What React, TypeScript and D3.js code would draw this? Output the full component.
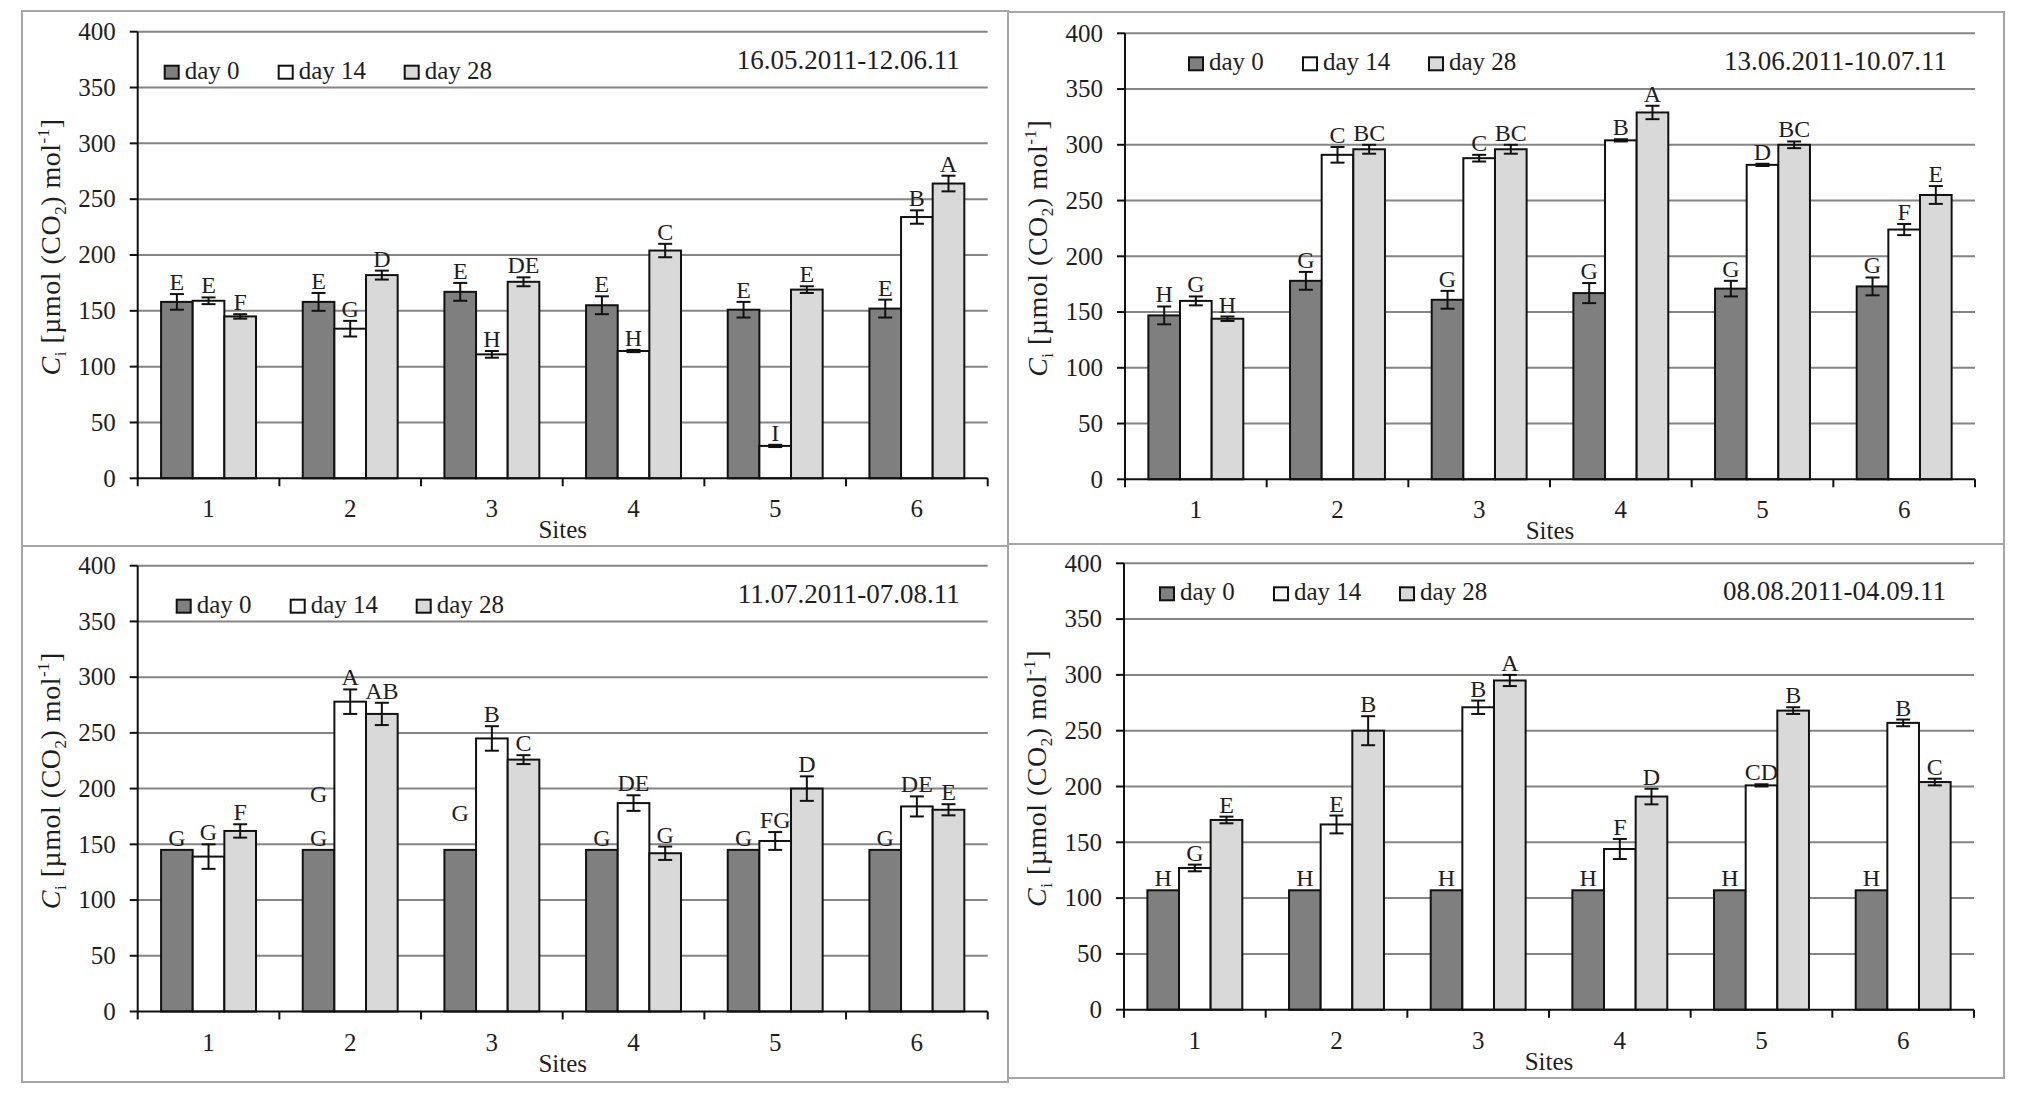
import * as d3 from "d3";

// Ci [µmol (CO2) mol-1] per site, four sampling periods, three sampling days
const SITES = ["1", "2", "3", "4", "5", "6"];
const SERIES = ["day 0", "day 14", "day 28"];
const Y_TICKS = [0, 50, 100, 150, 200, 250, 300, 350, 400];
const PERIODS = ["16.05.2011-12.06.11", "13.06.2011-10.07.11", "11.07.2011-07.08.11", "08.08.2011-04.09.11"];

// period 1
const P1_MEAN = [
  [158, 158, 167, 155, 151, 152],
  [159, 134, 111, 114, 29, 234],
  [145, 182, 176, 204, 169, 264],
];
const P1_ERR = [
  [7, 8, 8, 8, 7, 8],
  [3, 7, 3, 1, 1, 6],
  [2, 4, 4, 6, 3, 7],
];
const P1_LETTERS = [
  ["E", "E", "E", "E", "E", "E"],
  ["E", "G", "H", "H", "I", "B"],
  ["F", "D", "DE", "C", "E", "A"],
];

// period 2
const P2_MEAN = [
  [147, 178, 161, 167, 171, 173],
  [160, 291, 288, 304, 282, 224],
  [144, 296, 296, 329, 300, 255],
];
const P2_ERR = [
  [8, 8, 8, 9, 7, 8],
  [4, 7, 3, 1, 1, 5],
  [2, 4, 4, 6, 3, 8],
];
const P2_LETTERS = [
  ["H", "G", "G", "G", "G", "G"],
  ["G", "C", "C", "B", "D", "F"],
  ["H", "BC", "BC", "A", "BC", "E"],
];

// period 3
const P3_MEAN = [
  [145, 145, 145, 145, 145, 145],
  [139, 278, 245, 187, 153, 184],
  [162, 267, 226, 142, 200, 181],
];
const P3_ERR = [
  [0, 0, 0, 0, 0, 0],
  [11, 11, 11, 7, 8, 9],
  [6, 10, 4, 6, 11, 5],
];
const P3_LETTERS = [
  ["G", "G", "G", "G", "G", "G"],
  ["G", "A", "B", "DE", "FG", "DE"],
  ["F", "AB", "C", "G", "D", "E"],
];
const P3_LABEL_AT = [
  [null, null, 167, null, null, null],
  [null, null, null, null, null, null],
  [null, null, null, null, null, null],
];
const P3_EXTRA = [{ site: "2", series: 0, text: "G", at: 184 }];

// period 4
const P4_MEAN = [
  [107, 107, 107, 107, 107, 107],
  [127, 166, 271, 144, 201, 257],
  [170, 250, 295, 191, 268, 204],
];
const P4_ERR = [
  [0, 0, 0, 0, 0, 0],
  [3, 8, 6, 9, 1, 3],
  [3, 13, 5, 7, 3, 3],
];
const P4_LETTERS = [
  ["H", "H", "H", "H", "H", "H"],
  ["G", "E", "B", "F", "CD", "B"],
  ["E", "B", "A", "D", "B", "C"],
];

const FILLS = ["#7f7f7f", "#ffffff", "#d9d9d9"];
const FONT = "'Liberation Serif', 'Times New Roman', serif";
const INK = "#1e1e1e";
const PLOT_W = 850;

type Extra = { site: string; series: number; text: string; at: number };

const PANELS = [
  {
    period: PERIODS[0], mean: P1_MEAN, err: P1_ERR, letters: P1_LETTERS, labelAt: null as (number | null)[][] | null, extra: [] as Extra[],
    box: { x: 22, y: 11, w: 986, h: 535 }, x0: 137.7, yTop: 31.7, yBase: 478.3, legend: { dx: 27, dy: 47 },
  },
  {
    period: PERIODS[1], mean: P2_MEAN, err: P2_ERR, letters: P2_LETTERS, labelAt: null, extra: [],
    box: { x: 1008, y: 12, w: 996, h: 532 }, x0: 1125, yTop: 33.3, yBase: 479.3, legend: { dx: 64, dy: 37 },
  },
  {
    period: PERIODS[2], mean: P3_MEAN, err: P3_ERR, letters: P3_LETTERS, labelAt: P3_LABEL_AT, extra: P3_EXTRA,
    box: { x: 22, y: 546, w: 986, h: 536 }, x0: 137.7, yTop: 565.7, yBase: 1011.5, legend: { dx: 39, dy: 47 },
  },
  {
    period: PERIODS[3], mean: P4_MEAN, err: P4_ERR, letters: P4_LETTERS, labelAt: null, extra: [],
    box: { x: 1008, y: 544, w: 996, h: 534 }, x0: 1124, yTop: 563.3, yBase: 1009.7, legend: { dx: 36, dy: 37 },
  },
];

const LEGEND_STEP = [0, 114, 240];

function Panel({ p }: { p: (typeof PANELS)[number] }) {
  const x1 = p.x0 + PLOT_W;
  const x = d3.scaleBand<string>().domain(SITES).range([p.x0, x1]).padding(0);
  const bw = x.bandwidth();
  const groupW = bw * 0.67;
  const inner = d3
    .scaleBand<number>()
    .domain(d3.range(SERIES.length))
    .range([(bw - groupW) / 2, (bw + groupW) / 2])
    .padding(0);
  const y = d3.scaleLinear().domain([0, 400]).range([p.yBase, p.yTop]);
  const cap = 7;

  const labelY = (s: number, i: number) => {
    const over = p.labelAt ? p.labelAt[s][i] : null;
    const at = over ?? p.mean[s][i] + p.err[s][i];
    return y(at) - 4;
  };

  return (
    <g>
      <rect x={p.box.x} y={p.box.y} width={p.box.w} height={p.box.h} fill="none" stroke="#a6a6a6" strokeWidth={2} />

      {/* gridlines */}
      {Y_TICKS.filter((t) => t > 0).map((t) => (
        <line key={t} x1={p.x0} x2={x1} y1={y(t)} y2={y(t)} stroke="#858585" strokeWidth={2} />
      ))}

      {/* bars */}
      {SERIES.map((_, s) =>
        SITES.map((site, i) => {
          const bx = (x(site) ?? 0) + (inner(s) ?? 0);
          return (
            <rect
              key={`${s}-${i}`}
              x={bx}
              y={y(p.mean[s][i])}
              width={inner.bandwidth()}
              height={p.yBase - y(p.mean[s][i])}
              fill={FILLS[s]}
              stroke="#111"
              strokeWidth={2}
            />
          );
        })
      )}

      {/* error bars */}
      {SERIES.map((_, s) =>
        SITES.map((site, i) => {
          const e = p.err[s][i];
          if (!e) return null;
          const cx = (x(site) ?? 0) + (inner(s) ?? 0) + inner.bandwidth() / 2;
          const m = p.mean[s][i];
          return (
            <g key={`e${s}-${i}`} stroke="#111" strokeWidth={2}>
              <line x1={cx} x2={cx} y1={y(m - e)} y2={y(m + e)} />
              <line x1={cx - cap} x2={cx + cap} y1={y(m - e)} y2={y(m - e)} />
              <line x1={cx - cap} x2={cx + cap} y1={y(m + e)} y2={y(m + e)} />
            </g>
          );
        })
      )}

      {/* letters */}
      {SERIES.map((_, s) =>
        SITES.map((site, i) => {
          const cx = (x(site) ?? 0) + (inner(s) ?? 0) + inner.bandwidth() / 2;
          return (
            <text key={`l${s}-${i}`} x={cx} y={labelY(s, i)} textAnchor="middle" fontSize={24} fill={INK}>
              {p.letters[s][i]}
            </text>
          );
        })
      )}
      {p.extra.map((e, k) => {
        const cx = (x(e.site) ?? 0) + (inner(e.series) ?? 0) + inner.bandwidth() / 2;
        return (
          <text key={`x${k}`} x={cx} y={y(e.at) - 4} textAnchor="middle" fontSize={24} fill={INK}>
            {e.text}
          </text>
        );
      })}

      {/* axes */}
      <line x1={p.x0} x2={p.x0} y1={p.yTop} y2={p.yBase + 8} stroke="#111" strokeWidth={2} />
      <line x1={p.x0} x2={x1} y1={p.yBase} y2={p.yBase} stroke="#111" strokeWidth={2} />
      {Y_TICKS.map((t) => (
        <g key={`yt${t}`}>
          <line x1={p.x0 - 8} x2={p.x0} y1={y(t)} y2={y(t)} stroke="#111" strokeWidth={2} />
          <text x={p.x0 - 22} y={y(t)} dy="0.33em" textAnchor="end" fontSize={25} fill={INK}>
            {t}
          </text>
        </g>
      ))}
      {SITES.map((site) => (
        <g key={`xt${site}`}>
          <line x1={(x(site) ?? 0) + bw} x2={(x(site) ?? 0) + bw} y1={p.yBase} y2={p.yBase + 8} stroke="#111" strokeWidth={2} />
          <text x={(x(site) ?? 0) + bw / 2} y={p.yBase + 39} textAnchor="middle" fontSize={25} fill={INK}>
            {site}
          </text>
        </g>
      ))}
      <text x={(p.x0 + x1) / 2} y={p.yBase + 60} textAnchor="middle" fontSize={25} fill={INK}>
        Sites
      </text>

      {/* y title */}
      <text
        transform={`translate(${p.x0 - 78},${(p.yTop + p.yBase) / 2 - 8}) rotate(-90)`}
        textAnchor="middle"
        fontSize={28}
        letterSpacing={0.5}
        fill={INK}
      >
        <tspan fontStyle="italic">C</tspan>
        <tspan fontSize={17} dy={6}>i</tspan>
        <tspan dy={-6}> [µmol (CO</tspan>
        <tspan fontSize={17} dy={6}>2</tspan>
        <tspan dy={-6}>) mol</tspan>
        <tspan fontSize={17} dy={-11}>-1</tspan>
        <tspan dy={11}>]</tspan>
      </text>

      {/* legend */}
      {SERIES.map((name, s) => {
        const lx = p.x0 + p.legend.dx + LEGEND_STEP[s];
        const ly = p.yTop + p.legend.dy;
        return (
          <g key={`lg${s}`}>
            <rect x={lx} y={ly - 13} width={14} height={13} fill={FILLS[s]} stroke="#111" strokeWidth={2} />
            <text x={lx + 20} y={ly} fontSize={25} fill={INK}>
              {name}
            </text>
          </g>
        );
      })}

      {/* period */}
      <text x={x1 - 28} y={p.yTop + 37} textAnchor="end" fontSize={27} fill={INK}>
        {p.period}
      </text>
    </g>
  );
}

export default function App() {
  return (
    <svg
      width={2021}
      height={1098}
      viewBox="0 0 2021 1098"
      style={{ position: "absolute", left: 0, top: 0, background: "#fff" }}
      fontFamily={FONT}
    >
      <rect width={2021} height={1098} fill="#fff" />
      {PANELS.map((p, k) => (
        <Panel key={k} p={p} />
      ))}
    </svg>
  );
}
